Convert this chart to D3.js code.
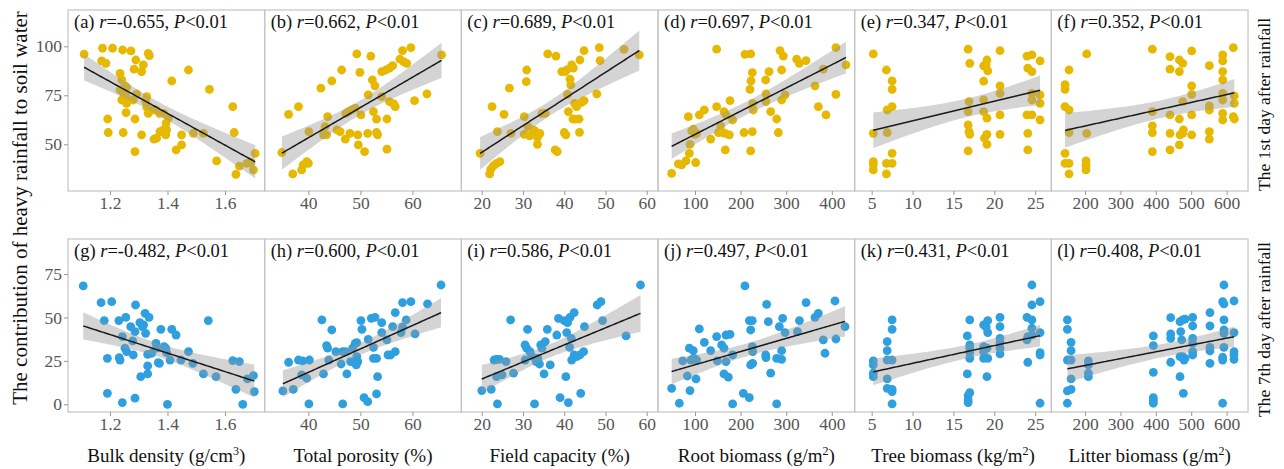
<!DOCTYPE html>
<html>
<head>
<meta charset="utf-8">
<title>heavy rainfall contribution</title>
<script src="https://cdn.jsdelivr.net/npm/d3@7"></script>
<style>
  body { margin: 0; background: #fff; }
  svg text { font-family: "Liberation Serif", "Times New Roman", serif; }
</style>
</head>
<body>
<svg id="chart" width="1284" height="469"></svg>
<script>
// points: [x value, contribution %]
const ptsA = [[1.11,96],[1.174,99],[1.209,99],[1.244,98.1],[1.273,97.6],[1.333,96.4],[1.337,95.2],[1.171,92.5],[1.186,91.3],[1.29,93],[1.284,88.3],[1.316,90.5],[1.31,87.1],[1.473,87.9],[1.415,82.3],[1.235,86.2],[1.241,82.8],[1.252,79.8],[1.258,79.1],[1.235,77.7],[1.246,76.4],[1.241,72.6],[1.258,70.9],[1.256,74.3],[1.281,72.6],[1.293,75.7],[1.328,74.3],[1.324,71.8],[1.328,68.9],[1.333,65.8],[1.351,67.5],[1.36,67.5],[1.372,65.8],[1.386,65.8],[1.403,63.3],[1.395,60.7],[1.386,57.3],[1.374,56.5],[1.397,57.3],[1.394,54.8],[1.362,53.1],[1.449,54.8],[1.449,49.7],[1.43,47.1],[1.49,55.6],[1.525,55.6],[1.546,78],[1.192,62.9],[1.194,56],[1.246,56],[1.31,54.8],[1.287,46.3],[1.353,52.6],[1.287,62.9],[1.256,66.2],[1.627,69.2],[1.632,56],[1.571,41.5],[1.638,34.7],[1.65,38.9],[1.676,40.3],[1.69,40.7],[1.699,36.9],[1.705,45.4]];
const ptsB = [[34.9,45.8],[37.0,34.9],[36.2,65.3],[38.1,69.2],[38.7,36.9],[39.0,39.5],[39.7,41.2],[40.0,40.3],[40.1,56.5],[42.4,78.6],[44.5,82.3],[42.9,54.8],[43.5,54.8],[43.7,64.1],[43.2,59],[45.5,57.3],[46.1,56.5],[46.4,87.9],[47.1,52.6],[47.2,65.8],[47.7,66.7],[48.3,67.5],[48.0,55.6],[49.0,68.4],[49.3,96.1],[49.5,54.8],[49.9,86.7],[50.1,65],[49.6,49.7],[50.8,46.3],[51.4,55.6],[51.5,75.2],[52.0,95],[52.3,82.8],[52.8,79.8],[52.5,66.7],[53.1,62.8],[53.1,56],[53.3,54.8],[54.1,74.3],[54.1,87.1],[54.9,87.9],[55.6,88.8],[56.2,90.1],[55.1,47.5],[55.1,62.9],[55.6,71.8],[56.4,70.6],[56.7,69.2],[57.6,93.4],[58.1,97.8],[58.3,92.2],[58.9,91.3],[59.7,99.3],[60.4,72.3],[62.8,75.7],[65.6,95.6]];
const ptsC = [[19.6,45.4],[21.9,34.9],[22.2,37.3],[22.8,39],[23.6,40.3],[24.4,41.2],[22.5,69.2],[23.8,56.5],[25.4,65.3],[26.7,78.6],[27.1,55.6],[30.3,64.1],[30.8,82],[30.9,87.9],[30.3,55.1],[31.2,59],[31.6,54.3],[32.4,57.3],[32.9,56.8],[33.5,53.6],[33.5,50],[34.1,55.6],[34.6,65.8],[35.4,65.8],[36.0,96.1],[38.0,95],[37.8,47.1],[38.3,46.3],[39.4,87.1],[40.0,56],[40.4,54.8],[40.2,87.1],[40.6,87.9],[41.4,83.2],[41.6,80.3],[40.8,75.5],[41.0,66.7],[41.8,90.5],[42.2,88.8],[42.5,70.9],[42.1,62.9],[42.6,62.8],[43.0,69.2],[43.6,62.9],[43.7,56.1],[43.8,93],[44.2,71.4],[44.8,72.3],[44.8,97.8],[47.9,75.7],[48.5,99.3],[48.7,92.7],[54.5,98.4],[58.2,95.6]];
const ptsD = [[48.8,35.2],[63.5,40],[70.8,39.5],[80.3,41.5],[87.6,45.4],[101.5,40.7],[89,50],[85.4,64.1],[92.7,56.8],[96.3,57.7],[100,55.1],[103.7,55.6],[109.5,65],[120.5,67.5],[134.4,52.6],[147.5,98.5],[147.5,69.2],[151.2,56],[156.3,59.4],[160.7,56],[165.8,55.6],[163.6,66.7],[168,65],[166.5,47.1],[175.3,54.8],[176.8,72.3],[182.6,62.4],[207.5,56],[209.6,95.9],[222.1,96.1],[225.7,86.6],[222.8,82.3],[220.6,78],[226.5,70.9],[227.9,67.5],[225.7,56.5],[222.1,46.6],[255,82.8],[262.3,87.1],[255.7,75.7],[255.7,71.8],[266,66.7],[279.1,62.9],[282.7,56],[286.4,97.8],[293.7,95],[290,87.9],[290,72.6],[297.5,75.2],[323,93.4],[328.8,91.3],[343.4,92.7],[363.2,79.8],[370.5,69.2],[381.4,88.3],[387.3,65],[409,99.3],[409,75.5],[431,90.5]];
const ptsE = [[5.2,96.1],[5.2,55.6],[5.2,41.2],[5.2,39.5],[5.2,36.9],[6.8,87.9],[7.5,82.3],[7.5,78],[7.5,69.2],[6.9,67.5],[6.9,56],[7.5,45.4],[6.8,40.3],[7.5,40.3],[6.8,34.9],[16.8,98.5],[17.0,91.3],[16.9,71.8],[16.8,66.7],[16.8,59.9],[16.9,56.5],[17.0,55.1],[16.8,46.6],[18.7,90],[19.1,93],[19.0,90.5],[19.2,87.4],[18.7,82.2],[18.7,72.6],[18.7,66.7],[19.1,63.3],[19.1,55.1],[18.8,53.1],[19.1,50],[20.7,97.8],[20.7,79.8],[20.7,76],[20.7,65],[20.7,55.1],[24.0,95],[24.6,95.6],[25.6,92.5],[24.1,88.8],[24.6,87.1],[24.6,76],[24.6,72.6],[25.6,75.2],[25.6,70.9],[24.0,65],[24.6,65],[25.6,62.4],[24.1,55.6],[24.1,47.1]];
const ptsF = [[143.5,80.4],[143.5,78],[143.5,69.2],[154.8,87.9],[154.8,67.5],[154.8,56],[143.5,45.4],[143.5,40.3],[154.8,40.3],[154.8,34.9],[204.7,96.1],[204.7,55.6],[202.8,41.5],[202.8,39.1],[202.8,36.9],[390.2,98.5],[390.2,66.7],[390.2,59.4],[390.2,56],[390.2,46.3],[440.1,94.7],[440.1,88.3],[440.1,65],[440.1,55.6],[440.1,47.1],[466.5,93],[475.9,91.3],[466.5,87.1],[475.9,71.8],[466.5,62.9],[468.4,54.8],[477.8,57.3],[475.9,55.6],[466.5,49.7],[501.3,97.6],[501.3,79.8],[501.3,75.5],[501.3,65],[501.3,54.8],[551.2,90.1],[551.2,69.6],[551.2,67.5],[551.2,56.5],[551.2,52.6],[589,95.6],[589,92.5],[589,87.1],[589,82.8],[589,76],[589,72.6],[589,65.8],[589,62.4],[619,99.3],[621.8,74.7],[621.8,70.9],[619,64.1],[621.8,62.9]];
const ptsG = [[1.107,68.2],[1.169,58.6],[1.206,59.1],[1.18,48.2],[1.231,48.2],[1.255,50.1],[1.191,26.5],[1.232,26.9],[1.235,25.5],[1.191,6.3],[1.243,1],[1.287,3.5],[1.243,39],[1.252,32.3],[1.258,30.3],[1.272,44.7],[1.279,36.5],[1.287,41.9],[1.289,57.2],[1.281,28.4],[1.304,47],[1.313,44.7],[1.317,45.7],[1.324,40.9],[1.322,52.4],[1.336,50.1],[1.307,15.9],[1.331,17.5],[1.331,22.1],[1.331,28.8],[1.345,29.4],[1.36,35.1],[1.362,32.3],[1.368,24],[1.372,23.6],[1.377,43.2],[1.388,33.2],[1.394,32.3],[1.397,29.8],[1.4,0],[1.409,25.5],[1.415,43.2],[1.43,39.9],[1.447,25.5],[1.473,30.3],[1.488,23.6],[1.525,17.5],[1.542,48.2],[1.569,15.9],[1.627,25.2],[1.638,8.6],[1.65,24.6],[1.662,0],[1.678,14.6],[1.699,16.5],[1.702,7.3]];
const ptsH = [[35.1,7.7],[36.2,24.2],[37.1,8.6],[38.1,25.5],[38.9,25],[40.2,25.5],[38.7,16.9],[39.7,15],[40.1,0.2],[42.6,48.6],[42.9,17.5],[43.5,33.8],[43.7,32.3],[43.9,25.5],[44.5,42.8],[45.3,30.3],[46.3,23.2],[46.6,30.3],[47.1,30.3],[47.4,17.5],[46.6,0.2],[48.1,24.6],[48.5,32.3],[49.0,35.1],[49.3,35.5],[49.3,27.5],[49.5,24.6],[49.2,22.7],[50.1,48.2],[50.3,43.2],[50.7,3.8],[51.4,1.5],[51.5,37.4],[52.1,49.5],[52.8,50.1],[52.5,32.8],[52.5,26.5],[53.1,26.5],[53.3,15.9],[53.1,6],[54.1,47],[54.1,41.3],[55.1,37.1],[55.3,28.4],[55.8,28.4],[56.7,30.3],[56.2,44.7],[56.7,52.8],[58.1,58.6],[59.7,59.1],[58.8,48.6],[58.1,44.4],[57.8,41.3],[60.5,40.5],[62.9,57.8],[65.5,68.7]];
const ptsI = [[20,7.9],[22.3,8.6],[23,25.5],[23.6,25.9],[24.3,25.9],[23.8,0.2],[23.6,15.9],[24.9,16.9],[25.9,24.6],[27,48.6],[27.7,17.9],[30.5,34.2],[30.9,32.3],[31.1,43.2],[30.5,25.5],[31.7,30.3],[32.1,27.8],[32.8,0.2],[33.2,24.6],[33.6,26.5],[34,23.2],[34.3,34.2],[34.6,32.3],[35.1,17.5],[35.4,36.1],[35.9,43.2],[36.6,22.7],[38.2,39.9],[39,3.8],[38.6,49.5],[40,48.2],[40.6,41.3],[40.4,15.9],[40.8,47],[41,1],[41.3,32.8],[41.4,50.1],[41.7,38],[41.8,25.5],[42.4,52.8],[42.4,28.4],[43,27.5],[43.8,28.4],[44.7,30.3],[44,6.3],[44.9,44.7],[48,57.2],[48.9,59.1],[49.3,48.2],[55,39.4],[58.5,68.7]];
const ptsJ = [[48.8,9.2],[65.6,0.6],[73,25],[83.2,16.3],[87.6,32.3],[89,7.9],[91.2,25.5],[96.3,30.9],[97.8,26.5],[103.7,25.5],[102.2,14.6],[109.5,43.4],[120.5,35.7],[134.4,30.9],[147.5,39],[149,25],[158.5,34.2],[163.6,32.3],[168,39.9],[176.8,40.3],[163.6,17.5],[173.1,15.6],[168,24.6],[182.6,28.4],[182.6,0.2],[206,6.3],[209.6,68.2],[219.2,3.8],[219.2,48.2],[225.7,48.2],[222.1,42.8],[225.7,33.2],[226.5,30.3],[222.1,22.7],[226.5,23.6],[255,28.4],[255.7,26.9],[257.2,57.6],[260.8,47.6],[266,17.9],[279.1,0.2],[279.1,26.5],[285,44.7],[292.3,49.5],[290,30.9],[290,25.9],[297.5,41.3],[324.6,41.9],[329,48.2],[343.6,58.6],[363.2,50.1],[370.5,52.4],[381.4,37.1],[385.1,29.4],[407,59.5],[429,44.7],[409,37.6]];
const ptsK = [[5.2,25],[5.2,22.7],[5.2,17.9],[5.2,15.9],[7.5,48.6],[7.5,43.2],[6.9,36.1],[6.9,30.9],[6.9,25.5],[7.5,25.5],[6.9,14.6],[6.9,9.2],[7.5,8.6],[7.5,7.3],[7.5,0.2],[17,48.6],[16.7,39.4],[17,34.2],[17,32.3],[17,29.8],[17,26.5],[16.7,17.5],[17,6.7],[16.8,5],[16.8,2.5],[16.8,1],[18.7,45.7],[19.2,48.2],[19,44.4],[19.2,41.3],[18.7,33.2],[18.7,30.3],[18.7,26.5],[19.1,32.3],[19.2,26.5],[19.1,15.9],[20.7,50.1],[20.7,44.7],[20.7,38],[20.7,35.5],[20.7,32.3],[20.7,29],[24.6,68.7],[24.6,57.2],[25.6,59.1],[24,50.1],[24.6,48.6],[24.6,43.8],[24.6,39.9],[24.1,39],[24,37.1],[25.6,41.3],[25.6,29.8],[25.6,28.4],[24.1,24.2],[25.6,0.6]];
const ptsL = [[150.1,48.6],[150.1,43.2],[150.1,25.5],[150.1,7.7],[150.1,0.6],[160.5,35.7],[160.5,30.9],[160.5,25.5],[160.5,14.6],[160.5,8.6],[209.4,25],[209.4,22.7],[209.4,17.9],[209.4,15.9],[393,39.4],[393,33.8],[393,18.4],[393,3.8],[393,2.1],[393,0.6],[442,49.9],[442,40.5],[442,38],[442,24.2],[468.4,47.6],[475.9,48.6],[482.5,49],[470.3,41.9],[473.2,37.1],[468.4,27.5],[475.9,27.5],[482.5,26.5],[479.7,25.5],[468.4,15.9],[477.8,6.3],[504.1,50.1],[504.1,45.1],[504.1,38],[504.1,35.1],[504.1,30.3],[504.1,28.4],[553,52.8],[553,45.1],[553,32.8],[553,30.7],[553,23.6],[592.5,68.7],[588.8,59.1],[592.5,57.8],[592.5,48.6],[592.5,42.8],[592.5,40.9],[592.5,32.8],[588.8,27.1],[588.8,25.5],[588.8,0.6],[620.9,59.5],[620.9,41.3],[620.9,30.3],[620.9,28.4],[620.9,25.9]];

const tagsTop = ["a", "b", "c", "d", "e", "f"];
const tagsBottom = ["g", "h", "i", "j", "k", "l"];
const rTop = ["-0.655", "0.662", "0.689", "0.697", "0.347", "0.352"];
const rBottom = ["-0.482", "0.600", "0.586", "0.497", "0.431", "0.408"];
const xTitles = [["Bulk density (g/cm", "3", ")"], ["Total porosity (%)"], ["Field capacity (%)"],
                 ["Root biomass (g/m", "2", ")"], ["Tree biomass (kg/m", "2", ")"], ["Litter biomass (g/m", "2", ")"]];
const xTicks = [[1.2, 1.4, 1.6], [40, 50, 60], [20, 30, 40, 50, 60], [100, 200, 300, 400], [5, 10, 15, 20, 25], [200, 300, 400, 500, 600]];
const xDomains = [[1.054, 1.738], [31.6, 69.4], [15.05, 62.74], [18.9, 450.2], [2.92, 26.98], [104.8, 660.5]];
const yTicksTop = [50, 75, 100];
const yTicksBottom = [0, 25, 50, 75];
const rowNames = ["The 1st day after rainfall", "The 7th day after rainfall"];

const svg = d3.select("#chart");
const left = 68, pw = 196.67;
const rows = [
  { top: 10, bottom: 191, domain: [26.17, 118.5], ticks: yTicksTop, color: "#E7B800",
    tags: tagsTop, r: rTop, pts: [ptsA, ptsB, ptsC, ptsD, ptsE, ptsF] },
  { top: 239, bottom: 412, domain: [-4.44, 95.2], ticks: yTicksBottom, color: "#2E9FDF",
    tags: tagsBottom, r: rBottom, pts: [ptsG, ptsH, ptsI, ptsJ, ptsK, ptsL] }
];

function smooth(pts) {
  const n = pts.length;
  const mx = d3.mean(pts, d => d[0]), my = d3.mean(pts, d => d[1]);
  let sxx = 0, sxy = 0;
  pts.forEach(([x, y]) => { sxx += (x - mx) ** 2; sxy += (x - mx) * (y - my); });
  const b = sxy / sxx, a = my - b * mx;
  let sse = 0;
  pts.forEach(([x, y]) => { sse += (y - a - b * x) ** 2; });
  const s = Math.sqrt(sse / (n - 2)), t = 2.0;
  const [x0, x1] = d3.extent(pts, d => d[0]);
  return d3.range(81).map(i => {
    const x = x0 + (x1 - x0) * i / 80, yh = a + b * x;
    const se = s * Math.sqrt(1 / n + (x - mx) ** 2 / sxx);
    return { x: x, y: yh, lo: yh - t * se, hi: yh + t * se };
  });
}

rows.forEach((row, ri) => {
  const y = d3.scaleLinear().domain(row.domain).range([row.bottom, row.top]);

  row.pts.forEach((pts, ci) => {
    const x0 = left + ci * pw;
    const x = d3.scaleLinear().domain(xDomains[ci]).range([x0, x0 + pw]);
    const g = svg.append("g");

    g.append("rect").attr("x", x0).attr("y", row.top)
      .attr("width", pw).attr("height", row.bottom - row.top)
      .attr("fill", "none").attr("stroke", "#c4c4c4").attr("stroke-width", 1.2);

    g.selectAll("circle").data(pts).enter().append("circle")
      .attr("cx", d => x(d[0])).attr("cy", d => y(d[1]))
      .attr("r", 4.4).attr("fill", row.color);

    const fit = smooth(pts);
    g.append("path").datum(fit)
      .attr("d", d3.area().x(d => x(d.x)).y0(d => y(d.lo)).y1(d => y(d.hi)))
      .attr("fill", "#999").attr("fill-opacity", 0.42);
    g.append("path").datum(fit)
      .attr("d", d3.line().x(d => x(d.x)).y(d => y(d.y)))
      .attr("fill", "none").attr("stroke", "#1a1a1a").attr("stroke-width", 1.5);

    // x axis
    const ax = g.append("g").attr("transform", "translate(0," + row.bottom + ")")
      .call(d3.axisBottom(x).tickValues(xTicks[ci]).tickSize(4).tickPadding(2)
        .tickFormat(ci === 0 ? d3.format(".1f") : d3.format("d")));
    ax.select(".domain").remove();
    ax.selectAll("line").attr("stroke", "#999");
    ax.selectAll("text").attr("font-size", 17.5).attr("fill", "#555")
      .style("font-family", "'Liberation Serif', 'Times New Roman', serif");

    if (ci === 0) {
      const ay = g.append("g").attr("transform", "translate(" + x0 + ",0)")
        .call(d3.axisLeft(y).tickValues(row.ticks).tickSize(4).tickPadding(2));
      ay.select(".domain").remove();
      ay.selectAll("line").attr("stroke", "#999");
      ay.selectAll("text").attr("font-size", 17.5).attr("fill", "#555")
        .style("font-family", "'Liberation Serif', 'Times New Roman', serif");
    }

    // panel label
    const lab = g.append("text").attr("x", x0 + 6).attr("y", row.top + 18)
      .attr("font-size", 18.5).attr("fill", "#111");
    lab.append("tspan").text("(" + row.tags[ci] + ") ");
    lab.append("tspan").attr("font-style", "italic").text("r");
    lab.append("tspan").text("=" + row.r[ci] + ", ");
    lab.append("tspan").attr("font-style", "italic").text("P");
    lab.append("tspan").text("<0.01");

    // x titles below bottom row
    if (ri === 1) {
      const t = svg.append("text").attr("x", x0 + pw / 2).attr("y", 462)
        .attr("text-anchor", "middle").attr("font-size", 19).attr("fill", "#111");
      t.append("tspan").text(xTitles[ci][0]);
      if (xTitles[ci].length > 1) {
        t.append("tspan").attr("font-size", 12).attr("dy", -7).text(xTitles[ci][1]);
        t.append("tspan").attr("dy", 7).text(xTitles[ci][2]);
      }
    }
  });

  svg.append("text")
    .attr("transform", "translate(1270," + ((row.top + row.bottom) / 2 + 4) + ") rotate(-90)")
    .attr("text-anchor", "middle").attr("font-size", 17.5).attr("fill", "#111")
    .text(rowNames[ri]);
});

svg.append("text")
  .attr("transform", "translate(27,208) rotate(-90)")
  .attr("text-anchor", "middle").attr("font-size", 21).attr("fill", "#111")
  .text("The contribution of heavy rainfall to soil water");
</script>
</body>
</html>
